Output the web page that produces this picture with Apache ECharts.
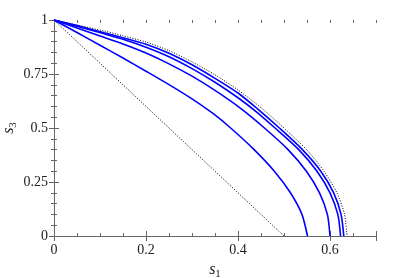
<!DOCTYPE html>
<html>
<head>
<meta charset="utf-8">
<script src="https://cdn.jsdelivr.net/npm/echarts@6/dist/echarts.min.js"></script>
<style>
  html, body { margin: 0; padding: 0; background: #fff; }
  #chart { width: 415px; height: 278px; }
</style>
</head>
<body>
<div id="chart"></div>
<script>
// curves (s1 -> s3)
var outerX = [0, 0.05, 0.109, 0.15, 0.2, 0.25, 0.3, 0.35, 0.4, 0.45, 0.5, 0.549, 0.587, 0.615, 0.6315, 0.637]
var outerY = [1, 0.977, 0.949, 0.927, 0.898, 0.858, 0.806, 0.746, 0.676, 0.594, 0.5, 0.4, 0.3, 0.2, 0.1, 0]

var blue1X = [0, 0.05, 0.109, 0.15, 0.2, 0.25, 0.3, 0.35, 0.4, 0.445, 0.49, 0.54, 0.58, 0.608, 0.624, 0.63]
var blue1Y = [1, 0.974, 0.941, 0.918, 0.888, 0.846, 0.793, 0.73, 0.662, 0.584, 0.5, 0.4, 0.3, 0.2, 0.1, 0]

var blue2X = [0, 0.05, 0.109, 0.15, 0.2, 0.25, 0.3, 0.35, 0.4, 0.44, 0.4805, 0.532, 0.5717, 0.6, 0.617, 0.623]
var blue2Y = [1, 0.971, 0.936, 0.911, 0.874, 0.83, 0.775, 0.712, 0.64, 0.575, 0.5, 0.4, 0.3, 0.2, 0.1, 0]

var blue3X = [0, 0.05, 0.1, 0.15, 0.2, 0.25, 0.3, 0.35, 0.405, 0.4575, 0.5088, 0.5487, 0.5772, 0.5943, 0.6]
var blue3Y = [1, 0.963, 0.926, 0.889, 0.847, 0.797, 0.74, 0.674, 0.592, 0.5, 0.4, 0.3, 0.2, 0.1, 0]

var blue4X = [0, 0.05, 0.1, 0.15, 0.2, 0.25, 0.3, 0.347, 0.384, 0.435, 0.479, 0.514, 0.539, 0.551]
var blue4Y = [1, 0.942, 0.883, 0.824, 0.763, 0.701, 0.635, 0.565, 0.5, 0.4, 0.3, 0.2, 0.1, 0]

var lineX = [0, 0.5]
var lineY = [1, 0]

var xTicks = [0, 0.2, 0.4, 0.6]
var yTicks = [0, 0.25, 0.5, 0.75, 1]

function pairs(xs, ys) {
  return xs.map(function (x, i) { return [x, ys[i]] })
}

var FONT = 'Liberation Serif'
var AXIS = '#666'

var chart = echarts.init(document.getElementById('chart'))

var nameRich = {
  s: { fontFamily: FONT, fontStyle: 'italic', fontSize: 16, color: '#222' },
  n: { fontFamily: FONT, fontSize: 11, color: '#222', padding: [9, 0, 0, 0] }
}

function xAx(pos, labels, interval, len) {
  return {
    type: 'value', position: pos, min: 0, max: 0.7, interval: interval,
    axisLine: { show: labels, lineStyle: { color: AXIS, width: 1 } },
    axisTick: { show: true, inside: true, length: len, lineStyle: { color: AXIS } },
    axisLabel: {
      show: labels && pos === 'bottom', margin: 7, color: '#222',
      fontFamily: FONT, fontSize: 14,
      formatter: function (v) {
        var r = Math.round(v * 10) / 10
        return xTicks.indexOf(r) >= 0 && Math.abs(v - r) < 1e-6 ? String(r) : ''
      }
    },
    splitLine: { show: false },
    name: labels && pos === 'bottom' ? '{s|s}{n|1}' : '',
    nameLocation: 'middle', nameGap: 22,
    nameTextStyle: { fontFamily: FONT, color: '#222', rich: nameRich }
  }
}

function yAx(pos, labels) {
  return {
    type: 'value', position: pos, min: 0, max: 1, interval: 0.25,
    axisLine: { show: true, lineStyle: { color: AXIS, width: 1 } },
    axisTick: { show: true, inside: true, length: 5, lineStyle: { color: AXIS } },
    minorTick: { show: true, splitNumber: 5, length: 3, lineStyle: { color: AXIS } },
    axisLabel: {
      show: labels, margin: 6, color: '#222', fontFamily: FONT, fontSize: 14,
      formatter: function (v) { return yTicks.indexOf(v) >= 0 ? String(v) : '' }
    },
    splitLine: { show: false },
    name: labels ? '{s|s}{n|3}' : '',
    nameLocation: 'middle', nameGap: 35, nameRotate: 90, nameMoveOverlap: false,
    nameTextStyle: { fontFamily: FONT, color: '#222', rich: nameRich }
  }
}

function curve(xs, ys, color, dotted) {
  return {
    type: 'line', data: pairs(xs, ys), xAxisIndex: 0, yAxisIndex: 0,
    showSymbol: false, smooth: 0.25, silent: true,
    lineStyle: { color: color, width: dotted ? 1 : 1.6, type: dotted ? [1, 1.6] : 'solid' }
  }
}

var option = {
  backgroundColor: '#fff',
  animation: false,
  grid: { left: 54, top: 20, right: 39, bottom: 42, containLabel: false, outerBoundsMode: 'none' },
  xAxis: [
    xAx('bottom', true, 0.2, 5),
    xAx('top', true, 0.2, 5),
    xAx('bottom', false, 0.05, 3),
    xAx('top', false, 0.05, 3)
  ],
  yAxis: [yAx('left', true), yAx('right', false)],
  series: [
    curve(lineX, lineY, '#000', true),
    curve(outerX, outerY, '#000', true),
    curve(blue1X, blue1Y, '#0000ff', false),
    curve(blue2X, blue2Y, '#0000ff', false),
    curve(blue3X, blue3Y, '#0000ff', false),
    curve(blue4X, blue4Y, '#0000ff', false)
  ]
}

option && chart.setOption(option)
</script>
</body>
</html>
